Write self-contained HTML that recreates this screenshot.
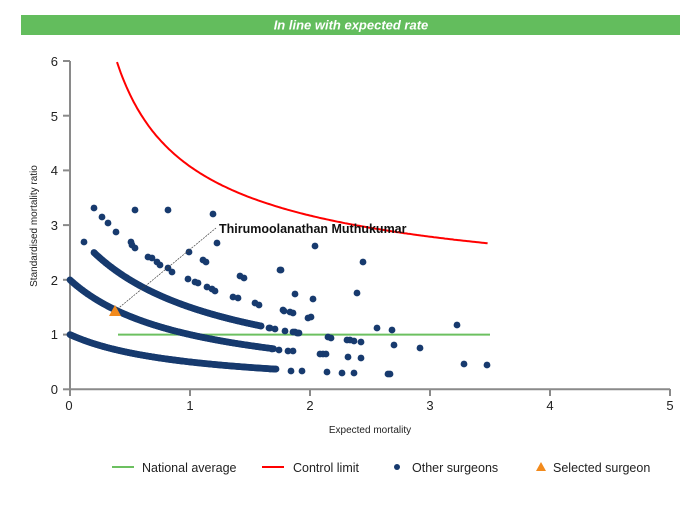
<!DOCTYPE html>
<html><head><meta charset="utf-8"><style>
body{margin:0;background:#fff;width:700px;height:500px;overflow:hidden;font-family:"Liberation Sans",sans-serif}
</style></head><body>
<svg id="s" width="700" height="500" xmlns="http://www.w3.org/2000/svg" font-family="Liberation Sans, sans-serif">
<rect x="21" y="15" width="659" height="20" fill="#63bd5d"/>
<text x="351" y="29.5" text-anchor="middle" fill="#fff" font-size="13" font-weight="bold" font-style="italic">In line with expected rate</text>
<g stroke="#8a8a8a" stroke-width="2">
<line x1="70" y1="61" x2="70" y2="390"/>
<line x1="69" y1="389.3" x2="670" y2="389.3"/>
<line x1="63" y1="61" x2="70" y2="61"/><line x1="63" y1="115.7" x2="70" y2="115.7"/><line x1="63" y1="170.4" x2="70" y2="170.4"/><line x1="63" y1="225.1" x2="70" y2="225.1"/><line x1="63" y1="279.8" x2="70" y2="279.8"/><line x1="63" y1="334.6" x2="70" y2="334.6"/><line x1="63" y1="389.3" x2="70" y2="389.3"/>
<line x1="70" y1="389" x2="70" y2="396"/><line x1="190" y1="389" x2="190" y2="396"/><line x1="310" y1="389" x2="310" y2="396"/><line x1="430" y1="389" x2="430" y2="396"/><line x1="550" y1="389" x2="550" y2="396"/><line x1="670" y1="389" x2="670" y2="396"/>
</g>
<g font-size="13" fill="#222" text-anchor="end">
<text x="58" y="66">6</text><text x="58" y="121">5</text><text x="58" y="175">4</text><text x="58" y="230">3</text><text x="58" y="285">2</text><text x="58" y="339">1</text><text x="58" y="394">0</text>
</g>
<g font-size="13" fill="#222" text-anchor="middle">
<text x="69" y="410">0</text><text x="190" y="410">1</text><text x="310" y="410">2</text><text x="430" y="410">3</text><text x="550" y="410">4</text><text x="670" y="410">5</text>
</g>
<text x="370" y="433" font-size="10" fill="#222" text-anchor="middle">Expected mortality</text>
<text transform="translate(37,226) rotate(-90)" font-size="10" fill="#222" text-anchor="middle">Standardised mortality ratio</text>
<line x1="118" y1="334.6" x2="490" y2="334.6" stroke="#6cc060" stroke-width="2"/>
<path id="red" fill="none" stroke="#f00" stroke-width="2" d=""/>
<g id="d" fill="#173a6e"></g>
<line x1="115" y1="311" x2="216" y2="228" stroke="#444" stroke-width="0.7" stroke-dasharray="2,1"/>
<polygon points="115,305 109,316 121,316" fill="#f28a1c"/>
<text x="219" y="233" font-size="12.5" font-weight="bold" fill="#111">Thirumoolanathan Muthukumar</text>
<line x1="112" y1="467" x2="134" y2="467" stroke="#6cc060" stroke-width="2"/>
<text x="142" y="472" font-size="12.5" fill="#222">National average</text>
<line x1="262" y1="467" x2="284" y2="467" stroke="#f00" stroke-width="2"/>
<text x="293" y="472" font-size="12.5" fill="#222">Control limit</text>
<circle cx="397" cy="467" r="3" fill="#173a6e"/>
<text x="412" y="472" font-size="12.5" fill="#222">Other surgeons</text>
<polygon points="541,462 536,471 546,471" fill="#f28a1c"/>
<text x="553" y="472" font-size="12.5" fill="#222">Selected surgeon</text>
</svg>
<script>
var g=document.getElementById('d'),ns='http://www.w3.org/2000/svg';
function c(x,y){var e=document.createElementNS(ns,'circle');e.setAttribute('cx',x);e.setAttribute('cy',y);e.setAttribute('r',3.4);g.appendChild(e);}
function X(E){return 70+120*E}function Y(s){return 389.3-54.7*s}
function band(k,a,b){for(var E=a;E<=b;E+=0.008)c(X(E),Y(k/(1+E)));}
band(1,0,1.72);band(2,0,1.7);band(3,0.2,1.6);
var p=[[276,369],[291,371],[302,371],[279,350],[288,351],[293,351],[261,326],[269,328],[275,329],[285,331],[295,332],[298,333],
[94,208],[102,217],[108,223],[116,232],[135,210],[168,210],[213,214],[84,242],[131,242],[217,243],[132,245],[135,248],
[148,257],[152,258],[157,262],[160,265],[168,268],[172,272],[189,252],[203,260],[206,262],[188,279],[195,282],[198,283],[207,287],[212,289],[215,291],
[240,276],[244,278],[280,270],[233,297],[238,298],[255,303],[259,305],[295,294],[283,310],[290,312],[308,318],
[315,246],[281,270],[363,262],[313,299],[357,293],[284,311],[293,313],[311,317],[270,328],[293,332],[297,333],[299,333],
[328,337],[331,338],[377,328],[392,330],[457,325],[347,340],[350,340],[354,341],[361,342],[394,345],[420,348],
[272,349],[320,354],[323,354],[326,354],[348,357],[361,358],[270,369],[327,372],[342,373],[354,373],[388,374],[390,374],[464,364],[487,365]];
p.forEach(function(q){c(q[0],q[1])});
var d='';
for(var i=0;i<=200;i++){var E=0.392+(3.48-0.392)*i/200;var s=1.243+2.831/Math.pow(E,0.55);d+=(i?'L':'M')+X(E).toFixed(1)+','+Y(s).toFixed(1);}
document.getElementById('red').setAttribute('d',d);
</script>
</body></html>
